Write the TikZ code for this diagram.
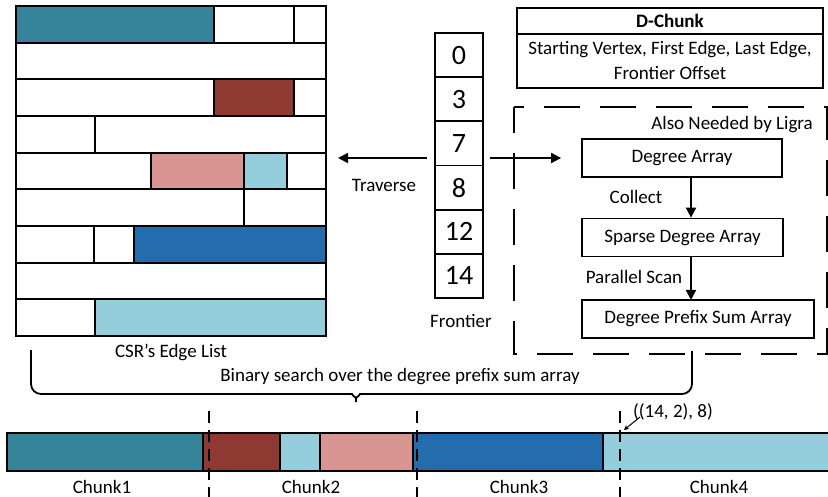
\documentclass[tikz,border=0pt]{standalone}
\usepackage{fontspec}
\setmainfont{Carlito}
\usetikzlibrary{arrows.meta}
\definecolor{cteal}{HTML}{35849A}
\definecolor{cred}{HTML}{8E3A33}
\definecolor{cpink}{HTML}{D99591}
\definecolor{clight}{HTML}{94CEDC}
\definecolor{cblue}{HTML}{236DAF}
\begin{document}
\begin{tikzpicture}[x=1pt,y=-1pt,
  cell/.style={draw=black, line width=1.8pt},
  lbl/.style={font=\fontsize{19}{22}\selectfont, inner sep=0pt},
  numcell/.style={draw=black, line width=1.8pt, minimum width=48pt, minimum height=44.17pt,
    inner sep=0pt, font=\fontsize{28}{30}\selectfont},
  flowbox/.style={draw=black, line width=1.8pt, minimum height=38pt, inner sep=0pt,
    font=\fontsize{19}{22}\selectfont},
  arr/.style={line width=1.8pt, -{Triangle[length=10pt,width=10pt]}},
  cut/.style={line width=2pt, dash pattern=on 12pt off 7pt}
]
\useasboundingbox (0,0) rectangle (828,497);

% ---- CSR edge list (9 rows) ----
\def\ra{6}\def\rb{42.7}\def\rc{79.3}\def\rd{116}\def\re{152.7}
\def\rf{189.3}\def\rg{226}\def\rh{262.7}\def\ri{299.3}\def\rj{336}
\draw[cell, fill=cteal] (16,\ra) rectangle (214,\rb);
\draw[cell] (214,\ra) rectangle (294,\rb);
\draw[cell] (294,\ra) rectangle (326,\rb);
\draw[cell] (16,\rb) rectangle (326,\rc);
\draw[cell] (16,\rc) rectangle (214,\rd);
\draw[cell, fill=cred] (214,\rc) rectangle (294,\rd);
\draw[cell] (294,\rc) rectangle (326,\rd);
\draw[cell] (16,\rd) rectangle (95,\re);
\draw[cell] (95,\rd) rectangle (326,\re);
\draw[cell] (16,\re) rectangle (151,\rf);
\draw[cell, fill=cpink] (151,\re) rectangle (244,\rf);
\draw[cell, fill=clight] (244,\re) rectangle (287,\rf);
\draw[cell] (287,\re) rectangle (326,\rf);
\draw[cell] (16,\rf) rectangle (244,\rg);
\draw[cell] (244,\rf) rectangle (326,\rg);
\draw[cell] (16,\rg) rectangle (94,\rh);
\draw[cell] (94,\rg) rectangle (134,\rh);
\draw[cell, fill=cblue] (134,\rg) rectangle (326,\rh);
\draw[cell] (16,\rh) rectangle (326,\ri);
\draw[cell] (16,\ri) rectangle (95,\rj);
\draw[cell, fill=clight] (95,\ri) rectangle (326,\rj);
\node[lbl] (csr) at (171,352) {CSR’s Edge List};

% ---- frontier ----
\node[numcell] (f0) at (459,55.1) {0};
\node[numcell] (f1) at (459,99.25) {3};
\node[numcell] (f2) at (459,143.4) {7};
\node[numcell] (f3) at (459,187.6) {8};
\node[numcell] (f4) at (459,231.8) {12};
\node[numcell] (f5) at (459,275.9) {14};
\node[lbl] (frontier) at (461,321) {Frontier};

\coordinate (travS) at (427,158);
\coordinate (travE) at (338,158);
\draw[arr] (travS) -- (travE);
\node[lbl] (trav) at (384,185) {Traverse};

% ---- D-Chunk record ----
\draw[cell] (517,8) rectangle (823,88);
\draw[cell] (517,34) -- (823,34);
\node[lbl, font=\fontsize{19}{22}\selectfont\bfseries] (dchunk) at (670,21) {D-Chunk};
\node[lbl] (dl1) at (670,50) {Starting Vertex, First Edge, Last Edge,};
\node[lbl] (dl2) at (670,73) {Frontier Offset};

% ---- degree pipeline ----
\draw[line width=2pt, dash pattern=on 36pt off 20pt, dash phase=10pt] (514,107) rectangle (827,354);
\node[lbl, anchor=east] (ligra) at (813,125) {Also Needed by Ligra};
\node[flowbox, minimum width=200pt] (da) at (682,158) {Degree Array};
\node[flowbox, minimum width=201pt] (sda) at (682.5,237.5) {Sparse Degree Array};
\node[flowbox, minimum width=232pt] (dps) at (698,319) {Degree Prefix Sum Array};
\coordinate (outS) at (490,158);
\draw[arr, shorten >=20pt] (outS) -- (da.west);
\draw[arr] ([xshift=9pt]da.south) -- ([xshift=8.5pt]sda.north);
\draw[arr] ([xshift=8.5pt]sda.south) -- (691,300);
\node[lbl] (collect) at (636,197) {Collect};
\node[lbl] (pscan) at (634,277) {Parallel Scan};

% ---- brace ----
\coordinate (bl) at (31,350);
\coordinate (br) at (692,351);
\draw[line width=1.8pt, rounded corners=10pt]
  (bl) -- (31,394) -- (342,394)
  .. controls (351,394) and (356,398) .. (356,408)
  .. controls (356,398) and (361,394) .. (370,394)
  -- (692,394) -- (br);
\node[lbl] (bs) at (400,377) {Binary search over the degree prefix sum array};

% ---- chunked edge array ----
\draw[cell, fill=cteal] (7,433) rectangle (203,471);
\draw[cell, fill=cred] (203,433) rectangle (280,471);
\draw[cell, fill=clight] (280,433) rectangle (320,471);
\draw[cell, fill=cpink] (320,433) rectangle (413,471);
\draw[cell, fill=cblue] (413,433) rectangle (603,471);
\draw[cell, fill=clight] (603,433) rectangle (832,471);
\draw[cut] (209,411) -- (209,497);
\draw[cut] (417,411) -- (417,497);
\draw[cut] (620,411) -- (620,497);
\node[lbl] (c1) at (102,487) {Chunk1};
\node[lbl] (c2) at (311,487) {Chunk2};
\node[lbl] (c3) at (519,487) {Chunk3};
\node[lbl] (c4) at (719,487) {Chunk4};
\node[lbl] (pos) at (673,412) {((14, 2), 8)};
\coordinate (posE) at (624,430);
\draw[line width=1pt, -{Stealth[length=5pt,width=5pt]}] (640,417) -- (posE);
\end{tikzpicture}
\end{document}
